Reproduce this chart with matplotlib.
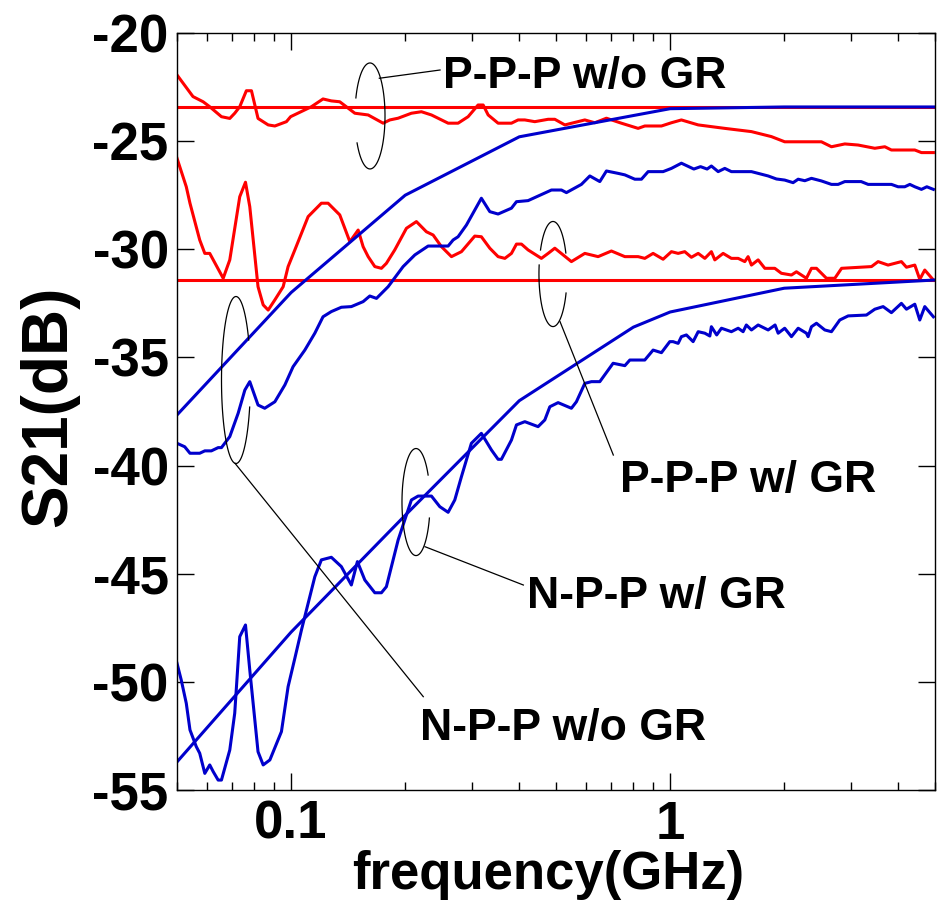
"""
S21 vs frequency for P-P-P / N-P-P structures, with and without guard ring.
Measured (noisy) and modelled (smooth) curves on a log frequency axis.
"""

import numpy as np
import matplotlib
matplotlib.use("Agg")
import matplotlib.pyplot as plt
from matplotlib import font_manager
from matplotlib.ticker import FixedLocator, NullFormatter

# -------------------------------------------------------------------
# Data (frequency in GHz, S21 in dB)
# -------------------------------------------------------------------

F_MIN, F_MAX = 0.05, 5.0

# flat reference lines
ppp_ref_level = -23.42
npp_ref_level = -31.42

# modelled curves
ppp_model_f = [0.05, 0.1, 0.2, 0.4, 1.0, 2.0, 5.0]
ppp_model_db = [-37.66, -32.0, -27.5, -24.8, -23.5, -23.42, -23.42]

npp_model_f = [0.05, 0.1, 0.2, 0.4, 0.8, 1.0, 2.0, 5.0]
npp_model_db = [-53.7, -47.7, -42.3, -37.0, -33.6, -32.9, -31.8, -31.42]

# measured: red, upper (P-P-P w/o GR)
red_up_f = [0.0500, 0.0551, 0.0586, 0.0610, 0.0655, 0.0689, 0.0710, 0.0732,
            0.0762, 0.0786, 0.0818, 0.0870, 0.0906, 0.0972, 0.0997, 0.1131,
            0.1214, 0.1277, 0.1344, 0.1473, 0.1597, 0.1749, 0.1822, 0.1916,
            0.2077, 0.2207, 0.2346, 0.2596, 0.2758, 0.2931, 0.3114, 0.3212,
            0.3311, 0.3517, 0.3814, 0.3971, 0.4137, 0.4395, 0.4766, 0.4964,
            0.5276, 0.5956, 0.6328, 0.6792, 0.7437, 0.8233, 0.8574, 0.9487,
            1.008, 1.071, 1.186, 1.394, 1.639, 1.850, 2.006, 2.507, 2.665,
            2.890, 3.133, 3.468, 3.686, 3.836, 4.422, 4.604, 4.95]
red_up_db = [-21.94, -22.94, -23.18, -23.41, -23.87, -23.95, -23.71, -23.41,
             -22.67, -22.67, -23.95, -24.25, -24.30, -24.10, -23.87, -23.41,
             -23.05, -23.14, -23.18, -23.71, -23.79, -24.17, -24.02, -23.94,
             -23.71, -23.64, -23.79, -24.17, -24.17, -23.87, -23.33, -23.33,
             -23.79, -24.17, -24.17, -24.02, -24.02, -24.10, -23.99, -23.99,
             -24.25, -24.02, -24.15, -23.94, -24.17, -24.41, -24.30, -24.30,
             -24.15, -24.02, -24.25, -24.41, -24.56, -24.79, -25.03, -25.03, -25.26,
             -25.13, -25.18, -25.33, -25.26, -25.41, -25.41, -25.53, -25.53]

# measured: red, lower (P-P-P w/ GR)
red_lo_f = [0.0500, 0.0529, 0.0541, 0.0574, 0.0592, 0.0610, 0.0662, 0.0689,
            0.0732, 0.0758, 0.0778, 0.0818, 0.0844, 0.0870, 0.0906, 0.0953,
            0.0982, 0.1023, 0.1109, 0.1202, 0.1252, 0.1344, 0.1429, 0.1503,
            0.1549, 0.1597, 0.1663, 0.1731, 0.1784, 0.1877, 0.2015, 0.2141,
            0.2275, 0.2370, 0.2493, 0.2649, 0.2815, 0.3052, 0.3177, 0.3344,
            0.3517, 0.3664, 0.3814, 0.3932, 0.4053, 0.4220, 0.4575, 0.4766,
            0.4964, 0.5490, 0.5956, 0.6457, 0.7000, 0.7596, 0.8233, 0.8574,
            0.9018, 0.9583, 1.008, 1.050, 1.093, 1.138, 1.186, 1.235, 1.285,
            1.312, 1.380, 1.451, 1.512, 1.574, 1.606, 1.639, 1.707, 1.778,
            1.889, 1.966, 2.090, 2.154, 2.289, 2.360, 2.433, 2.585, 2.720,
            2.834, 3.399, 3.538, 3.759, 4.076, 4.203, 4.422, 4.557, 4.698, 4.95]
red_lo_db = [-25.79, -27.11, -27.87, -29.57, -30.19, -30.19, -31.34, -30.49,
             -27.57, -26.90, -28.03, -31.73, -32.57, -32.81, -32.34, -31.73,
             -30.80, -30.03, -28.49, -27.87, -27.87, -28.41, -29.65, -29.11,
             -29.88, -30.34, -30.80, -30.88, -30.65, -30.03, -29.03, -28.72,
             -29.19, -29.34, -29.88, -30.34, -30.11, -29.39, -29.42, -29.95,
             -30.34, -30.42, -30.19, -29.76, -29.76, -30.03, -30.42, -30.19,
             -29.95, -30.57, -30.19, -30.34, -30.08, -30.34, -30.34, -30.42,
             -30.19, -30.46, -30.11, -30.19, -30.11, -30.37, -30.19, -30.42, -30.11,
             -30.49, -30.19, -30.42, -30.42, -30.57, -30.34, -30.73, -30.49, -30.88,
             -30.88, -31.11, -31.19, -31.04, -31.34, -30.88, -30.88, -31.34, -31.34,
             -30.88, -30.80, -30.57, -30.73, -30.57, -30.83, -30.73, -31.39, -30.96, -31.42]

# measured: blue, upper (N-P-P w/o GR)
blue_up_f = [0.0500, 0.0524, 0.0541, 0.0574, 0.0592, 0.0616, 0.0642, 0.0655,
             0.0689, 0.0725, 0.0755, 0.0778, 0.0818, 0.0852, 0.0906, 0.0963,
             0.1012, 0.1087, 0.1155, 0.1214, 0.1277, 0.1357, 0.1442, 0.1549,
             0.1613, 0.1680, 0.1803, 0.1975, 0.2121, 0.2299, 0.2596, 0.2676,
             0.2758, 0.2901, 0.3177, 0.3344, 0.3517, 0.3814, 0.3932, 0.4220,
             0.4484, 0.4863, 0.5167, 0.5326, 0.5834, 0.6140, 0.6524, 0.6792,
             0.7291, 0.7596, 0.8070, 0.8402, 0.8750, 0.9583, 1.008, 1.071,
             1.155, 1.203, 1.252, 1.285, 1.339, 1.394, 1.451, 1.639, 1.707,
             1.814, 1.908, 2.006, 2.111, 2.177, 2.267, 2.360, 2.507, 2.665,
             2.775, 2.890, 3.192, 3.330, 3.836, 3.995, 4.160, 4.290, 4.422,
             4.604, 4.757, 4.95]
blue_up_db = [-38.97, -39.13, -39.43, -39.43, -39.32, -39.32, -39.17, -39.17,
              -38.66, -37.58, -36.51, -36.12, -37.20, -37.35, -37.05, -36.27,
              -35.43, -34.66, -33.88, -33.12, -32.88, -32.68, -32.65, -32.42,
              -32.16, -32.27, -31.73, -30.80, -30.26, -29.85, -29.85, -29.57,
              -29.42, -28.88, -27.64, -28.26, -28.37, -28.10, -27.80, -27.75,
              -27.54, -27.26, -27.26, -27.38, -27.00, -26.61, -26.87, -26.38,
              -26.49, -26.56, -26.76, -26.76, -26.41, -26.41, -26.26, -26.02,
              -26.29, -26.18, -26.29, -26.15, -26.41, -26.26, -26.41, -26.41, -26.49,
              -26.61, -26.75, -26.80, -26.92, -26.76, -26.83, -26.72, -26.84, -27.00,
              -27.00, -26.87, -26.87, -27.00, -27.00, -27.11, -27.11, -27.00, -27.11,
              -27.23, -27.11, -27.23]

# measured: blue, lower (N-P-P w/ GR)
blue_lo_f = [0.0500, 0.0513, 0.0529, 0.0541, 0.0562, 0.0574, 0.0592, 0.0610,
             0.0623, 0.0642, 0.0655, 0.0689, 0.0710, 0.0732, 0.0758, 0.0778,
             0.0818, 0.0844, 0.0879, 0.0943, 0.0982, 0.1023, 0.1065, 0.1109,
             0.1155, 0.1202, 0.1277, 0.1357, 0.1442, 0.1496, 0.1565, 0.1663,
             0.1731, 0.1784, 0.1916, 0.2077, 0.2163, 0.2346, 0.2468, 0.2596,
             0.2703, 0.2815, 0.2990, 0.3177, 0.3378, 0.3517, 0.3588, 0.3814,
             0.3932, 0.4137, 0.4484, 0.4671, 0.4816, 0.5064, 0.5490, 0.5659,
             0.5956, 0.6201, 0.6524, 0.7073, 0.7596, 0.7830, 0.8574, 0.9018,
             0.9487, 0.998, 1.018, 1.050, 1.071, 1.104, 1.150, 1.186, 1.235,
             1.273, 1.285, 1.327, 1.366, 1.451, 1.512, 1.558, 1.589, 1.639,
             1.707, 1.814, 1.892, 1.928, 2.006, 2.090, 2.177, 2.289, 2.313,
             2.360, 2.433, 2.559, 2.665, 2.803, 2.950, 3.296, 3.468, 3.648,
             3.836, 4.076, 4.203, 4.422, 4.557, 4.698, 4.95]
blue_lo_db = [-49.14, -49.91, -50.99, -52.22, -52.99, -53.30, -54.23, -53.84,
              -54.15, -54.54, -54.54, -53.15, -51.45, -47.91, -47.37, -49.45,
              -53.23, -53.84, -53.61, -52.30, -50.22, -48.91, -47.60, -46.37,
              -45.14, -44.36, -44.24, -44.67, -45.52, -44.44, -45.29, -45.88,
              -45.88, -45.60, -43.44, -41.59, -41.41, -41.41, -41.90, -42.16,
              -41.59, -40.51, -38.97, -38.51, -39.28, -39.71, -39.71, -38.82,
              -38.12, -37.97, -38.20, -37.89, -37.28, -37.09, -37.35, -37.05,
              -36.20, -36.12, -36.12, -35.27, -35.38, -35.12, -35.12, -34.66,
              -34.78, -34.27, -34.27, -34.35, -34.04, -33.96, -34.27, -33.81, -33.88,
              -34.01, -33.58, -33.96, -33.65, -33.81, -33.65, -33.81, -33.50, -33.73,
              -33.50, -33.73, -33.50, -33.88, -33.65, -34.04, -33.65, -33.88, -34.04,
              -33.58, -33.42, -33.73, -33.81, -33.27, -33.08, -33.04, -32.77, -32.65,
              -32.93, -32.50, -32.77, -32.54, -33.27, -32.65, -33.12]

y_ticks = [-20, -25, -30, -35, -40, -45, -50, -55]
x_ticks = [0.1, 1.0]
x_tick_labels = ["0.1", "1"]

# -------------------------------------------------------------------
# Style
# -------------------------------------------------------------------

RED = "#ff0000"
BLUE = "#0000cc"
LW = 2.2

names = {f.name for f in font_manager.fontManager.ttflist}
NARROW = "Liberation Sans Narrow" in names
TXT_FONT = "Liberation Sans Narrow" if NARROW else "Liberation Sans"
TICK_SIZE = 46 if NARROW else 38
NOTE_SIZE = 38 if NARROW else 32

plt.rcParams["axes.unicode_minus"] = False
plt.rcParams["font.family"] = [TXT_FONT, "DejaVu Sans"]
plt.rcParams["font.weight"] = "bold"

fig = plt.figure(figsize=(9.42, 9.24), dpi=100)
ax = fig.add_axes([0.1879, 0.1450, 0.8047, 0.8193])

# reference lines first, everything else on top
ax.plot([F_MIN, F_MAX], [ppp_ref_level] * 2, color=RED, lw=LW)
ax.plot([F_MIN, F_MAX], [npp_ref_level] * 2, color=RED, lw=LW)

ax.plot(red_up_f, red_up_db, color=RED, lw=LW)
ax.plot(red_lo_f, red_lo_db, color=RED, lw=LW)
ax.plot(blue_up_f, blue_up_db, color=BLUE, lw=LW)
ax.plot(blue_lo_f, blue_lo_db, color=BLUE, lw=LW)
ax.plot(ppp_model_f, ppp_model_db, color=BLUE, lw=LW)
ax.plot(npp_model_f, npp_model_db, color=BLUE, lw=LW)

ax.set_xscale("log")
ax.set_xlim(F_MIN, F_MAX)
ax.set_ylim(-55, -20)

ax.xaxis.set_major_locator(FixedLocator(x_ticks))
ax.set_xticklabels(x_tick_labels)
minor = [m * d for d in (0.01, 0.1, 1.0) for m in range(2, 10)]
ax.xaxis.set_minor_locator(FixedLocator([m for m in minor if F_MIN <= m <= F_MAX]))
ax.xaxis.set_minor_formatter(NullFormatter())
ax.set_yticks(y_ticks)
ax.set_yticklabels([str(v) for v in y_ticks])

ax.tick_params(which="both", direction="in", top=True, right=True, width=1.0)
ax.tick_params(which="major", length=12.5, labelsize=TICK_SIZE)
ax.tick_params(which="minor", length=6)
ax.tick_params(axis="x", which="major", pad=7)
ax.tick_params(axis="y", which="major", pad=6)
for s in ax.spines.values():
    s.set_linewidth(1.0)

ax.set_xlabel("frequency(GHz)", fontsize=TICK_SIZE, fontweight="bold")
ax.xaxis.set_label_coords(0.49, -0.079)
ax.set_ylabel("S21(dB)", fontsize=46, fontweight="bold", family="Liberation Sans")
ax.yaxis.set_label_coords(-0.129, 0.507)

# -------------------------------------------------------------------
# Annotations: ellipses (with gaps where curves cross), leaders, labels
# -------------------------------------------------------------------


def ellipse_arcs(cx, cy, a, b, arcs):
    for t0, t1 in arcs:
        t = np.radians(np.linspace(t0, t1, 120))
        ax.plot(cx + a * np.cos(t), cy + b * np.sin(t), color="black",
                lw=0.9, transform=ax.transAxes, clip_on=False)


ellipse_arcs(0.2546, 0.8904, 0.0198, 0.0700, [(-149.4, 160.1)])
ellipse_arcs(0.4960, 0.6816, 0.0185, 0.0694, [(23.6, 152.8), (170.1, 338.8)])
ellipse_arcs(0.0778, 0.5416, 0.0191, 0.1103, [(28.6, 341.1)])
ellipse_arcs(0.3153, 0.3804, 0.0185, 0.0707, [(30.3, 342.6)])

leaders = [
    ((0.2669, 0.9402), (0.3470, 0.9511)),
    ((0.5053, 0.6187), (0.5756, 0.4425)),
    ((0.0765, 0.4316), (0.3249, 0.1233)),
    ((0.3272, 0.3214), (0.4569, 0.2708)),
]
for (x0, y0), (x1, y1) in leaders:
    ax.plot([x0, x1], [y0, y1], color="black", lw=0.9, transform=ax.transAxes)

notes = [
    ("P-P-P w/o GR", 0.3509, 0.9273),
    ("P-P-P w/ GR", 0.5844, 0.3937),
    ("N-P-P w/o GR", 0.3206, 0.0661),
    ("N-P-P w/ GR", 0.4613, 0.2404),
]
for label, x, y in notes:
    ax.text(x, y, label, transform=ax.transAxes, fontsize=NOTE_SIZE,
            fontweight="bold", ha="left", va="baseline")

fig.savefig("out.png", dpi=100)
